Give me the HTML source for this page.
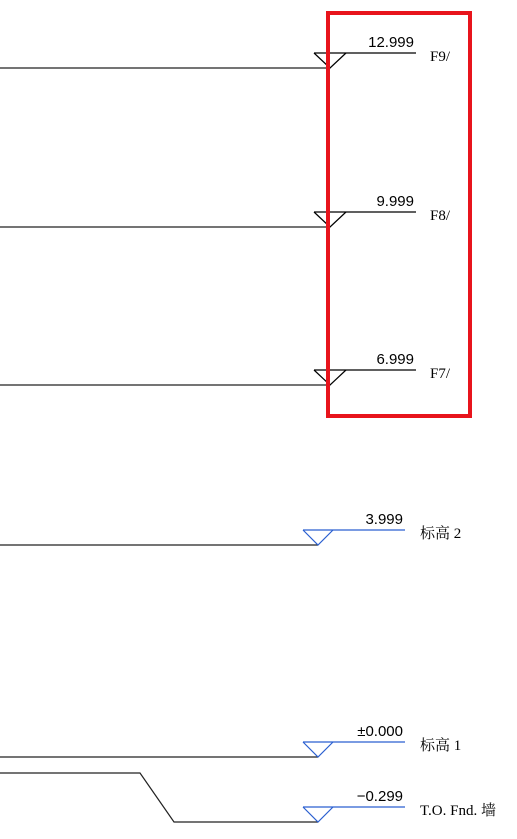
<!DOCTYPE html>
<html><head><meta charset="utf-8"><style>
html,body{margin:0;padding:0;background:#fff;width:517px;height:839px;overflow:hidden}
svg{display:block}
text{font-family:"Liberation Sans","Noto Sans CJK SC",sans-serif}
text.nm{font-family:"Liberation Serif","Noto Serif CJK SC",serif}
</style></head><body>
<svg id="c" width="517" height="839"></svg>
<script>
const levelNames = ["F9/","F8/","F7/","标高 2","标高 1","T.O. Fnd. 墙"];
const levelValues = ["12.999","9.999","6.999","3.999","±0.000","−0.299"];
const levelTops = [53,212,370,530,742,807];
const levelColors = ["#000","#000","#000","#2a5fd0","#2a5fd0","#2a5fd0"];
const NS="http://www.w3.org/2000/svg";
const svg=document.getElementById('c');
function mk(tag,attrs,parent){const e=document.createElementNS(NS,tag);for(const k in attrs)e.setAttribute(k,attrs[k]);(parent||svg).appendChild(e);return e;}
for(let i=0;i<levelNames.length;i++){
  const black=levelColors[i]==="#000";
  const y=levelTops[i];
  const cx=black?330:318, hw=black?16:15, lineEnd=black?416:405, lx=black?430:420;
  const g=mk('g',{});
  
  
  const apex=y+15;
  if(i===5){
    const fl=mk('polyline',{points:`0,773 140,773 174,${apex} ${cx},${apex}`,fill:'none',stroke:'#222','stroke-width':1.2},g);
    
    
  } else {
    const fl=mk('line',{x1:0,y1:apex,x2:cx,y2:apex,stroke:'#222','stroke-width':1.2},g);
    
    
  }
  const tri=mk('polyline',{points:`${cx-hw},${y} ${cx},${apex} ${cx+hw},${y}`,fill:'none',stroke:levelColors[i],'stroke-width':1.2},g);
  
  
  const ln=mk('line',{x1:cx-hw,y1:y,x2:lineEnd,y2:y,stroke:levelColors[i],'stroke-width':1.2},g);
  
  
  const vt=mk('text',{x:lineEnd-2,y:y-6,'text-anchor':'end','font-size':15,fill:'#000'},g);
  vt.textContent=levelValues[i];
  
  
  const nt=mk('text',{x:lx,y:y+8,'font-size':15,fill:'#000','class':'nm'},g);
  nt.textContent=levelNames[i];
  
  
}
const r=mk('rect',{x:328,y:13,width:142,height:403,fill:'none',stroke:'#e8141c','stroke-width':4});


</script>
</body></html>
